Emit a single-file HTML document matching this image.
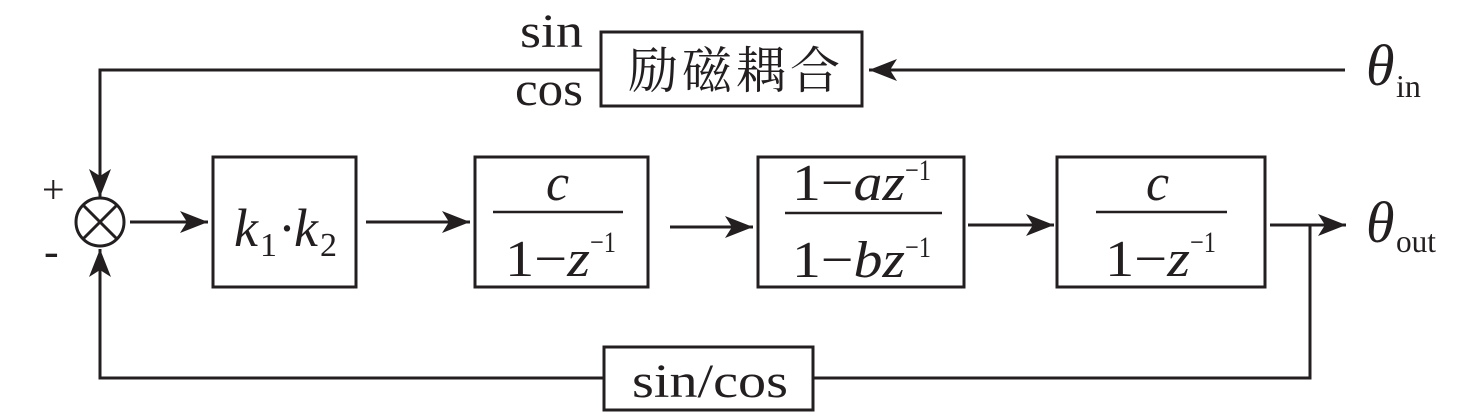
<!DOCTYPE html>
<html><head><meta charset="utf-8"><style>
body{margin:0;background:#fff;}
svg{display:block;}
text{font-family:"Liberation Serif",serif;fill:#231f20;}
.i{font-style:italic;}
</style></head><body>
<svg width="1476" height="417" viewBox="0 0 1476 417" xmlns="http://www.w3.org/2000/svg">
<defs><marker id="a" viewBox="0 0 28 22" refX="28" refY="11" markerWidth="28" markerHeight="22" markerUnits="userSpaceOnUse" orient="auto"><path d="M0,0 L28,11 L0,22 L7,11 Z" fill="#231f20"/></marker></defs>
<g stroke="#231f20" stroke-width="3" fill="none">
<rect x="601" y="32" width="261" height="74"/>
<rect x="213" y="157" width="143" height="130"/>
<rect x="475" y="157" width="173" height="130"/>
<rect x="758" y="157" width="206" height="130"/>
<rect x="1057" y="157" width="208" height="130"/>
<rect x="604" y="347" width="209" height="63"/>
<circle cx="100" cy="222" r="24"/>
<line x1="83" y1="205" x2="117" y2="239"/><line x1="117" y1="205" x2="83" y2="239"/>
<polyline points="601,70 100,70 100,197" marker-end="url(#a)"/>
<line x1="1345" y1="70" x2="869" y2="70" marker-end="url(#a)"/>
<line x1="130" y1="222" x2="208" y2="222" marker-end="url(#a)"/>
<line x1="366" y1="222" x2="470" y2="222" marker-end="url(#a)"/>
<line x1="670" y1="227" x2="753" y2="227" marker-end="url(#a)"/>
<line x1="968" y1="225" x2="1054" y2="225" marker-end="url(#a)"/>
<line x1="1270" y1="225" x2="1346" y2="225" marker-end="url(#a)"/>
<polyline points="1310,225 1310,378 813,378"/>
<polyline points="604,378 100,378 100,249" marker-end="url(#a)"/>
<line x1="493" y1="212" x2="623" y2="212" stroke-width="2.5"/>
<line x1="785" y1="213" x2="942" y2="213" stroke-width="2.5"/>
<line x1="1096" y1="212" x2="1227" y2="212" stroke-width="2.5"/>
</g>
<text x="520" y="47" font-size="48" textLength="63" lengthAdjust="spacingAndGlyphs">sin</text>
<text x="515" y="105" font-size="48" textLength="68" lengthAdjust="spacingAndGlyphs">cos</text>
<text x="628" y="88" font-size="50" style="font-family:'Noto Serif CJK SC',serif" textLength="212">励磁耦合</text>
<text x="42" y="203" font-size="40">+</text>
<text x="44" y="266" font-size="44">-</text>
<text x="234" y="246" font-size="54" class="i">k</text>
<text x="260" y="256" font-size="34">1</text>
<text x="278" y="246" font-size="54">·</text>
<text x="294" y="246" font-size="54" class="i">k</text>
<text x="320" y="256" font-size="34">2</text>
<text x="546" y="200" font-size="52" class="i">c</text>
<text x="505" y="276" font-size="52" textLength="85" lengthAdjust="spacingAndGlyphs">1−<tspan class="i">z</tspan></text>
<text x="590" y="252" font-size="30" textLength="26" lengthAdjust="spacingAndGlyphs">−1</text>
<text x="792" y="200" font-size="52" textLength="113" lengthAdjust="spacingAndGlyphs">1−<tspan class="i">az</tspan></text>
<text x="905" y="180" font-size="30" textLength="26" lengthAdjust="spacingAndGlyphs">−1</text>
<text x="792" y="277" font-size="52" textLength="113" lengthAdjust="spacingAndGlyphs">1−<tspan class="i">bz</tspan></text>
<text x="905" y="257" font-size="30" textLength="26" lengthAdjust="spacingAndGlyphs">−1</text>
<text x="1146" y="200" font-size="52" class="i">c</text>
<text x="1105" y="276" font-size="52" textLength="85" lengthAdjust="spacingAndGlyphs">1−<tspan class="i">z</tspan></text>
<text x="1190" y="252" font-size="30" textLength="26" lengthAdjust="spacingAndGlyphs">−1</text>
<text x="632" y="397" font-size="48" textLength="156" lengthAdjust="spacingAndGlyphs">sin/cos</text>
<text x="1366" y="85" font-size="58" class="i">θ</text>
<text x="1396" y="97" font-size="32">in</text>
<text x="1366" y="242" font-size="58" class="i">θ</text>
<text x="1396" y="252" font-size="32" textLength="40" lengthAdjust="spacingAndGlyphs">out</text>
</svg>
</body></html>
